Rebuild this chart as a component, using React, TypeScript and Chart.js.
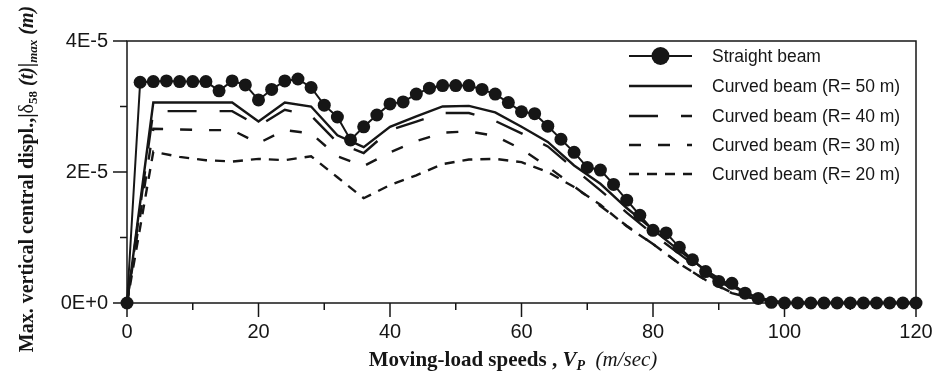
import React, { useEffect, useRef } from 'react';
import { Chart, registerables } from 'chart.js';
Chart.register(...registerables);

// ---- data (values in units of 1E-5 m) ----
const straightSpeeds = [0, 2, 4, 6, 8, 10, 12, 14, 16, 18, 20, 22, 24, 26, 28, 30, 32, 34, 36, 38, 40, 42, 44, 46, 48, 50, 52, 54, 56, 58, 60, 62, 64, 66, 68, 70, 72, 74, 76, 78, 80, 82, 84, 86, 88, 90, 92, 94, 96, 98, 100, 102, 104, 106, 108, 110, 112, 114, 116, 118, 120];
const straightBeam = [0, 3.37, 3.38, 3.39, 3.38, 3.38, 3.38, 3.24, 3.39, 3.33, 3.10, 3.26, 3.39, 3.42, 3.29, 3.02, 2.84, 2.49, 2.69, 2.87, 3.04, 3.07, 3.19, 3.28, 3.32, 3.32, 3.32, 3.26, 3.19, 3.06, 2.92, 2.89, 2.70, 2.50, 2.30, 2.07, 2.03, 1.81, 1.57, 1.34, 1.11, 1.07, 0.85, 0.66, 0.48, 0.33, 0.30, 0.15, 0.07, 0.01, 0, 0, 0, 0, 0, 0, 0, 0, 0, 0, 0];
const curvedSpeeds = [0, 4, 8, 12, 16, 20, 24, 28, 32, 36, 40, 44, 48, 52, 56, 60, 64, 68, 72, 76, 80, 84, 88, 92, 96, 100, 104, 108, 112, 116, 120];
const curvedR50 = [0, 3.06, 3.06, 3.06, 3.06, 2.77, 3.06, 3.00, 2.56, 2.38, 2.69, 2.85, 3.00, 3.01, 2.91, 2.69, 2.46, 2.10, 1.82, 1.45, 1.12, 0.80, 0.50, 0.25, 0.08, 0, 0, 0, 0, 0, 0];
const curvedR40 = [0, 2.93, 2.93, 2.93, 2.93, 2.70, 2.95, 2.86, 2.45, 2.29, 2.64, 2.77, 2.90, 2.90, 2.78, 2.59, 2.39, 2.05, 1.72, 1.38, 1.05, 0.75, 0.45, 0.22, 0.06, 0, 0, 0, 0, 0, 0];
const curvedR30 = [0, 2.66, 2.65, 2.64, 2.64, 2.44, 2.64, 2.59, 2.24, 2.09, 2.30, 2.47, 2.60, 2.62, 2.55, 2.35, 2.08, 1.78, 1.48, 1.18, 0.90, 0.60, 0.35, 0.16, 0.05, 0, 0, 0, 0, 0, 0];
const curvedR20 = [0, 2.31, 2.23, 2.18, 2.16, 2.20, 2.18, 2.24, 1.92, 1.60, 1.80, 1.95, 2.12, 2.19, 2.20, 2.15, 2.00, 1.77, 1.50, 1.17, 0.90, 0.60, 0.35, 0.15, 0.05, 0, 0, 0, 0, 0, 0];
const seriesLabels = ['Straight beam', 'Curved beam (R= 50 m)', 'Curved beam (R= 40 m)', 'Curved beam (R= 30 m)', 'Curved beam (R= 20 m)'];
const xTickValues = [0, 20, 40, 60, 80, 100, 120];
const yTickValues = [0, 2, 4];
const yTickLabels = ['0E+0', '2E-5', '4E-5'];

const INK = '#161616';
const dashes = [[], [], [29, 23], [12, 17], [10, 8]];

function pts(xs: number[], ys: number[]) {
  return xs.map((x, i) => ({ x, y: ys[i] }));
}

type Part = { t: string; f: string; dy?: number };
function richWidth(ctx: CanvasRenderingContext2D, parts: Part[]) {
  let w = 0;
  for (const p of parts) { ctx.font = p.f; w += ctx.measureText(p.t).width; }
  return w;
}
function drawRich(ctx: CanvasRenderingContext2D, parts: Part[], x: number, y: number) {
  let cx = x;
  for (const p of parts) {
    ctx.font = p.f;
    ctx.fillText(p.t, cx, y + (p.dy || 0));
    cx += ctx.measureText(p.t).width;
  }
}

const decorPlugin = {
  id: 'decor',
  beforeDatasetsDraw(chart: any) {
    const ctx = chart.ctx as CanvasRenderingContext2D;
    const { left, right, top, bottom } = chart.chartArea;
    const xs = chart.scales.x;
    const ys = chart.scales.y;
    ctx.save();
    ctx.strokeStyle = INK;
    ctx.lineWidth = 1.5;
    ctx.strokeRect(left, top, right - left, bottom - top);
    for (let v = 0; v <= 120; v += 10) {
      const px = xs.getPixelForValue(v);
      const len = v % 20 === 0 ? 14 : 7;
      ctx.beginPath(); ctx.moveTo(px, bottom); ctx.lineTo(px, bottom + len); ctx.stroke();
    }
    for (let v = 0; v <= 4; v += 1) {
      const py = ys.getPixelForValue(v);
      const len = v % 2 === 0 ? 14 : 7;
      ctx.beginPath(); ctx.moveTo(left - len, py); ctx.lineTo(left, py); ctx.stroke();
    }
    ctx.restore();
  },
  afterDraw(chart: any) {
    const ctx = chart.ctx as CanvasRenderingContext2D;
    ctx.save();
    ctx.fillStyle = INK;
    ctx.textBaseline = 'alphabetic';
    const serif = '"Liberation Serif", "Times New Roman", serif';
    const xParts: Part[] = [
      { t: 'Moving-load speeds , ', f: `bold 21px ${serif}` },
      { t: 'V', f: `italic bold 21px ${serif}` },
      { t: 'P', f: `italic bold 14px ${serif}`, dy: 4 },
      { t: '  (m/sec)', f: `italic 21px ${serif}` },
    ];
    const xw = richWidth(ctx, xParts);
    drawRich(ctx, xParts, 513 - xw / 2, 366);
    const yParts: Part[] = [
      { t: 'Max. vertical central displ.,|', f: `bold 20px ${serif}` },
      { t: 'δ', f: `20px ${serif}` },
      { t: '58', f: `bold 13px ${serif}`, dy: 4 },
      { t: ' (t)', f: `italic bold 20px ${serif}` },
      { t: '|', f: `bold 20px ${serif}` },
      { t: 'max', f: `italic bold 13px ${serif}`, dy: 4 },
      { t: ' (m)', f: `italic bold 20px ${serif}` },
    ];
    const yw = richWidth(ctx, yParts);
    ctx.translate(33, 179);
    ctx.rotate(-Math.PI / 2);
    drawRich(ctx, yParts, -yw / 2, 0);
    ctx.restore();

    ctx.save();
    const lx0 = 629, lx1 = 692, tx = 712;
    const rows = [56, 86, 116, 145, 174];
    ctx.strokeStyle = INK;
    ctx.fillStyle = INK;
    ctx.font = '17.5px "Liberation Sans", Arial, sans-serif';
    ctx.textBaseline = 'middle';
    rows.forEach((ry, i) => {
      ctx.lineWidth = i === 0 ? 2 : 2.4;
      ctx.setLineDash(dashes[i]);
      ctx.beginPath(); ctx.moveTo(lx0, ry); ctx.lineTo(lx1, ry); ctx.stroke();
      ctx.setLineDash([]);
      if (i === 0) {
        ctx.beginPath(); ctx.arc((lx0 + lx1) / 2, ry, 9, 0, Math.PI * 2); ctx.fill();
      }
      ctx.fillText(seriesLabels[i], tx, ry + 1);
    });
    ctx.restore();
  },
};

export default function App() {
  const ref = useRef<HTMLCanvasElement>(null);
  useEffect(() => {
    if (!ref.current) return;
    const curvedSeries = [curvedR50, curvedR40, curvedR30, curvedR20];
    const chart = new Chart(ref.current, {
      type: 'line',
      data: {
        datasets: [
          {
            label: seriesLabels[0],
            data: pts(straightSpeeds, straightBeam),
            borderColor: INK,
            backgroundColor: INK,
            borderWidth: 2,
            pointRadius: 6.5,
            pointBorderWidth: 0,
            pointBackgroundColor: INK,
            tension: 0,
            clip: false as any,
          },
          ...curvedSeries.map((s, i) => ({
            label: seriesLabels[i + 1],
            data: pts(curvedSpeeds, s),
            borderColor: INK,
            borderWidth: 2.4,
            borderDash: dashes[i + 1],
            pointRadius: 0,
            tension: 0,
            clip: false as any,
          })),
        ],
      },
      options: {
        responsive: false,
        animation: false,
        events: [],
        layout: { padding: { top: 41, right: 19, left: 0, bottom: 0 } },
        plugins: { legend: { display: false }, tooltip: { enabled: false } },
        scales: {
          x: {
            type: 'linear',
            min: 0,
            max: 120,
            border: { display: false },
            grid: { display: false },
            afterBuildTicks: (s: any) => { s.ticks = xTickValues.map((v) => ({ value: v })); },
            afterFit: (s: any) => { s.height = 76; s.paddingLeft = 0; s.paddingRight = 0; },
            ticks: {
              color: INK,
              padding: 9,
              maxRotation: 0,
              font: { family: '"Liberation Sans", Arial, sans-serif', size: 20 },
              callback: (v: any) => String(v),
            },
          },
          y: {
            type: 'linear',
            min: 0,
            max: 4,
            border: { display: false },
            grid: { display: false },
            afterBuildTicks: (s: any) => { s.ticks = yTickValues.map((v) => ({ value: v })); },
            afterFit: (s: any) => { s.width = 127; s.paddingTop = 0; s.paddingBottom = 0; },
            ticks: {
              color: INK,
              padding: 11,
              font: { family: '"Liberation Sans", Arial, sans-serif', size: 20 },
              callback: (v: any) => yTickLabels[yTickValues.indexOf(Number(v))] ?? '',
            },
          },
        },
      },
      plugins: [decorPlugin],
    });
    return () => chart.destroy();
  }, []);
  return (
    <div style={{ position: 'absolute', left: 0, top: 0, width: 935, height: 379, background: '#fff' }}>
      <canvas ref={ref} width={935} height={379} style={{ display: 'block' }} />
    </div>
  );
}
